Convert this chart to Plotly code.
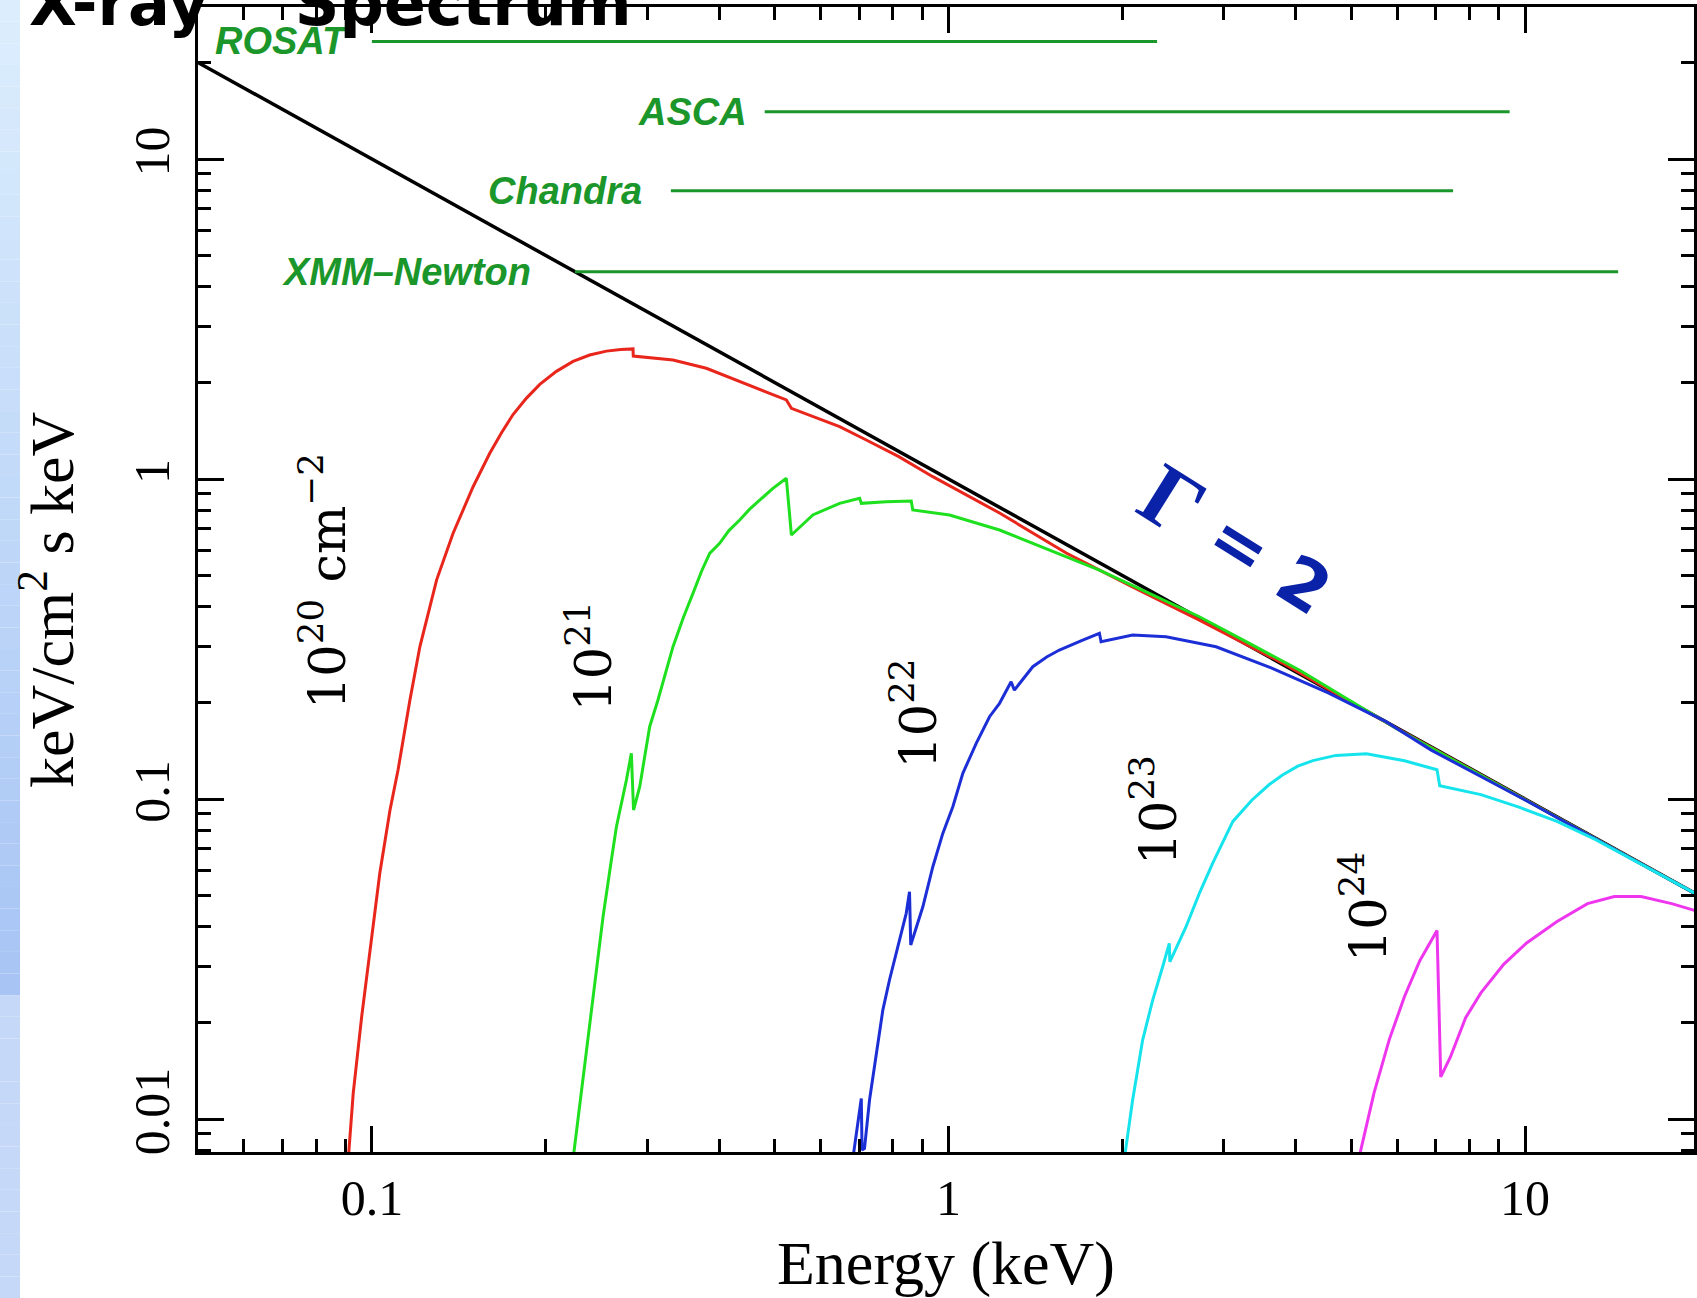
import math
import plotly.graph_objects as go

# ---------------- data ----------------
# unabsorbed power law (photon index 2)
pl_energy = [0.0501, 20.0]
pl_flux = [19.96, 0.0500]

# absorbed spectra, one per hydrogen column density
nh20_energy = [0.0910, 0.0928, 0.0960, 0.0999, 0.1032, 0.1075, 0.1110, 0.1164, 0.1211, 0.1295,
               0.1383, 0.1498, 0.1601, 0.1680, 0.1757, 0.1854, 0.1955, 0.2089, 0.2233, 0.2386,
               0.2551, 0.2700, 0.2837, 0.2840, 0.3328, 0.3802, 0.4344, 0.5233, 0.5340, 0.6474,
               0.7201, 0.8200, 0.9393, 1.226, 1.600, 2.084, 2.723, 3.793, 6.0, 10.0, 20.0]
nh20_flux = [0.0075, 0.0120, 0.0209, 0.0363, 0.0586, 0.0924, 0.1232, 0.2039, 0.299, 0.484,
             0.677, 0.946, 1.203, 1.400, 1.590, 1.790, 1.975, 2.170, 2.330, 2.440,
             2.510, 2.540, 2.550, 2.423, 2.354, 2.218, 2.014, 1.766, 1.663, 1.457,
             1.324, 1.175, 1.017, 0.783, 0.587, 0.460, 0.3625, 0.266, 0.166, 0.0995, 0.0499]

nh21_energy = [0.2233, 0.2339, 0.2418, 0.2517, 0.2602, 0.2655, 0.2763, 0.2818, 0.2843, 0.2914,
               0.3032, 0.3134, 0.3328, 0.3470, 0.3604, 0.3730, 0.3853, 0.4009, 0.4160, 0.4344,
               0.4520, 0.4704, 0.4960, 0.5233, 0.5340, 0.5817, 0.6474, 0.7012, 0.7060, 0.7800,
               0.8618, 0.8670, 1.004, 1.226, 1.496, 1.827, 2.230, 2.723, 3.325, 4.058,
               6.0, 10.0, 20.0]
nh21_flux = [0.0075, 0.01457, 0.02354, 0.04287, 0.06449, 0.08194, 0.1147, 0.139, 0.0924, 0.1093,
             0.1683, 0.2039, 0.2992, 0.370, 0.4393, 0.515, 0.5859, 0.6296, 0.690, 0.7446,
             0.805, 0.8601, 0.935, 1.005, 0.6683, 0.7722, 0.8396, 0.8703, 0.8396, 0.8494,
             0.8535, 0.8000, 0.7722, 0.6929, 0.600, 0.5195, 0.4393, 0.3712, 0.3066, 0.2530,
             0.1655, 0.0995, 0.0499]

nh22_energy = [0.6824, 0.7059, 0.7080, 0.7150, 0.7295, 0.7494, 0.7693, 0.7900, 0.8167, 0.8446,
               0.8558, 0.8600, 0.9026, 0.9393, 0.9775, 1.0174, 1.0588, 1.117, 1.178, 1.226,
               1.284, 1.301, 1.400, 1.480, 1.557, 1.640, 1.709, 1.827, 1.839, 2.086,
               2.384, 2.911, 3.627, 4.556, 5.727, 6.873, 10.0, 20.0]
nh22_flux = [0.0075, 0.0116, 0.0080, 0.0081, 0.01147, 0.01604, 0.0219, 0.0272, 0.03455, 0.04393,
             0.0513, 0.0350, 0.04605, 0.06143, 0.0781, 0.0946, 0.1203, 0.1493, 0.1808, 0.1991,
             0.2326, 0.2190, 0.2591, 0.2780, 0.2921, 0.3045, 0.3139, 0.3295, 0.3101, 0.3255,
             0.3215, 0.2991, 0.2569, 0.2146, 0.1748, 0.1422, 0.0993, 0.0499]

nh23_energy = [2.018, 2.086, 2.171, 2.260, 2.352, 2.415, 2.420, 2.582, 2.723, 2.871,
               3.113, 3.360, 3.600, 3.795, 4.034, 4.286, 4.696, 5.306, 6.178, 7.034,
               7.110, 8.381, 9.757, 11.36, 13.23, 15.41, 17.95, 20.0]
nh23_flux = [0.0075, 0.01147, 0.01765, 0.02354, 0.02991, 0.0354, 0.0310, 0.0399, 0.05074, 0.06297,
             0.08511, 0.0993, 0.1110, 0.1189, 0.1267, 0.1318, 0.1369, 0.1386, 0.1317, 0.1235,
             0.1100, 0.1032, 0.0943, 0.0851, 0.0748, 0.0645, 0.0556, 0.0500]

nh24_energy = [5.146, 5.470, 5.815, 6.178, 6.567, 7.034, 7.140, 7.418, 7.883, 8.381,
               9.180, 10.06, 11.36, 12.08, 12.83, 14.28, 15.89, 17.95, 19.66, 20.0]
nh24_flux = [0.0075, 0.01207, 0.01774, 0.02416, 0.03124, 0.03885, 0.01354, 0.0156, 0.0207, 0.02478,
             0.03043, 0.0355, 0.04144, 0.0442, 0.0471, 0.0496, 0.0496, 0.0471, 0.0448, 0.0445]

# observatory bandpasses (keV) and the flux level each bar is drawn at
missions = ["ROSAT", "ASCA", "Chandra", "XMM\u2013Newton"]
band_lo = [0.10, 0.48, 0.33, 0.225]
band_hi = [2.3, 9.4, 7.5, 14.5]
band_level = [23.3, 14.05, 7.96, 4.44]

# column-density labels: text and (energy, flux) anchor
nh_labels = ["10<sup>20</sup> cm<sup>\u22122</sup>", "10<sup>21</sup>", "10<sup>22</sup>",
             "10<sup>23</sup>", "10<sup>24</sup>"]
nh_label_energy = [0.0823, 0.2386, 0.873, 2.275, 5.26]
nh_label_flux = [0.480, 0.278, 0.184, 0.0924, 0.0460]

x_tick_vals = [0.1, 1, 10]
x_tick_text = ["0.1", "1", "10"]
y_tick_vals = [0.01, 0.1, 1, 10]
y_tick_text = ["0.01", "0.1", "1", "10"]

# ---------------- styling ----------------
W, H = 1697, 1298
M_L, M_R, M_T, M_B = 198, 3, 7, 146
PW, PH = W - M_L - M_R, H - M_T - M_B

X_RANGE = [-1.3016, 1.2929]
Y_RANGE = [-2.103, 1.475]

SERIF = "Liberation Serif"
SANS = "Liberation Sans"
BAND_GREEN = "#1b962a"
INDEX_BLUE = "#0a22a8"
curve_colors = ["#e8261c", "#1fe01f", "#1c2ed6", "#16e4ec", "#ee36ee"]
label_gap = [22, 16, 27, 42]


def px_x(px):
    return (px - M_L) / PW


def px_y(py):
    return (H - M_B - py) / PH


fig = go.Figure()

# unabsorbed power law
fig.add_trace(go.Scatter(x=pl_energy, y=pl_flux, mode="lines",
                         line=dict(color="black", width=3.5), hoverinfo="skip"))

series = [(nh20_energy, nh20_flux), (nh21_energy, nh21_flux), (nh22_energy, nh22_flux),
          (nh23_energy, nh23_flux), (nh24_energy, nh24_flux)]
for (e, f), c in zip(series, curve_colors):
    fig.add_trace(go.Scatter(x=e, y=f, mode="lines", line=dict(color=c, width=3),
                             hoverinfo="skip"))

# bandpass bars
for lo, hi, lev in zip(band_lo, band_hi, band_level):
    fig.add_trace(go.Scatter(x=[lo, hi], y=[lev, lev], mode="lines",
                             line=dict(color=BAND_GREEN, width=3), hoverinfo="skip"))

annotations = []

for name, lo, lev, gap in zip(missions, band_lo, band_level, label_gap):
    annotations.append(dict(
        x=math.log10(lo), y=math.log10(lev), xref="x", yref="y",
        text="<b><i>%s</i></b>" % name, showarrow=False,
        xanchor="right", yanchor="middle", xshift=-gap,
        font=dict(family=SANS, size=38, color=BAND_GREEN)))

for txt, e, f in zip(nh_labels, nh_label_energy, nh_label_flux):
    annotations.append(dict(
        x=math.log10(e), y=math.log10(f), xref="x", yref="y",
        text=txt, showarrow=False, textangle=-90,
        xanchor="center", yanchor="middle",
        font=dict(family="DejaVu Serif", size=51, color="black")))

# photon index label, set along the slope of the power law
annotations.append(dict(
    x=0.3887, y=-0.0656, xref="x", yref="y",
    text="<b>\u0393</b>", showarrow=False, textangle=32,
    xanchor="center", yanchor="middle",
    font=dict(family=SERIF, size=88, color=INDEX_BLUE)))
annotations.append(dict(
    x=0.558, y=-0.2625, xref="x", yref="y",
    text="<b>= 2</b>", showarrow=False, textangle=32,
    xanchor="center", yanchor="middle",
    font=dict(family="DejaVu Sans", size=68, color=INDEX_BLUE)))

# y-axis title
annotations.append(dict(
    x=px_x(47), y=px_y(600), xref="paper", yref="paper",
    text="keV/cm<sup>2</sup> s keV", showarrow=False, textangle=-90,
    xanchor="center", yanchor="middle",
    font=dict(family=SERIF, size=62, color="black")))

# slide title, running off the top of the page
annotations.append(dict(
    x=px_x(27), y=px_y(42), xref="paper", yref="paper",
    text="<b>X-ray\u00a0\u00a0\u00a0\u00a0Spectrum</b>", showarrow=False,
    xanchor="left", yanchor="bottom",
    font=dict(family="DejaVu Sans", size=62, color="black")))

# pale blue strip down the left edge of the slide
shapes = []
n_bands = 60
top_rgb = (220, 238, 253)
mid_rgb = (166, 196, 244)
for i in range(n_bands):
    t = i / (n_bands - 1)
    if t < 0.77:
        s = t / 0.77
        rgb = [int(round(a + (b - a) * s)) for a, b in zip(top_rgb, mid_rgb)]
    else:
        rgb = [198, 216, 247]
    y0 = H * i / n_bands
    y1 = H * (i + 1) / n_bands
    shapes.append(dict(type="rect", xref="paper", yref="paper",
                       x0=px_x(0), x1=px_x(20), y0=px_y(y1), y1=px_y(y0),
                       fillcolor="rgb(%d,%d,%d)" % tuple(rgb), line=dict(width=0),
                       layer="below"))


def minor_vals(lo_exp, hi_exp):
    vals = []
    for p in range(lo_exp, hi_exp + 1):
        for m in range(2, 10):
            vals.append(m * 10 ** p)
    return vals


axis_common = dict(
    type="log", showgrid=False, zeroline=False,
    showline=True, linecolor="black", linewidth=3, mirror="allticks",
    ticks="inside", ticklen=26, tickwidth=3, tickcolor="black",
    tickfont=dict(family=SERIF, size=50, color="black"),
)

fig.update_layout(
    width=W, height=H,
    margin=dict(l=M_L, r=M_R, t=M_T, b=M_B, autoexpand=False),
    paper_bgcolor="white", plot_bgcolor="white",
    showlegend=False,
    xaxis=dict(axis_common, range=X_RANGE, tickmode="array",
               tickvals=x_tick_vals, ticktext=x_tick_text, ticklabelstandoff=0,
               minor=dict(ticks="inside", ticklen=13, tickwidth=3, tickcolor="black",
                          tickmode="array", tickvals=minor_vals(-2, 1)),
               title=dict(text="Energy (keV)", standoff=30,
                          font=dict(family=SERIF, size=62, color="black"))),
    yaxis=dict(axis_common, range=Y_RANGE, tickmode="array",
               tickvals=y_tick_vals, ticktext=y_tick_text, tickangle=-90,
               ticklabelstandoff=6,
               minor=dict(ticks="inside", ticklen=13, tickwidth=3, tickcolor="black",
                          tickmode="array", tickvals=minor_vals(-3, 1))),
    annotations=annotations,
    shapes=shapes,
)

fig.write_html("out.html")
